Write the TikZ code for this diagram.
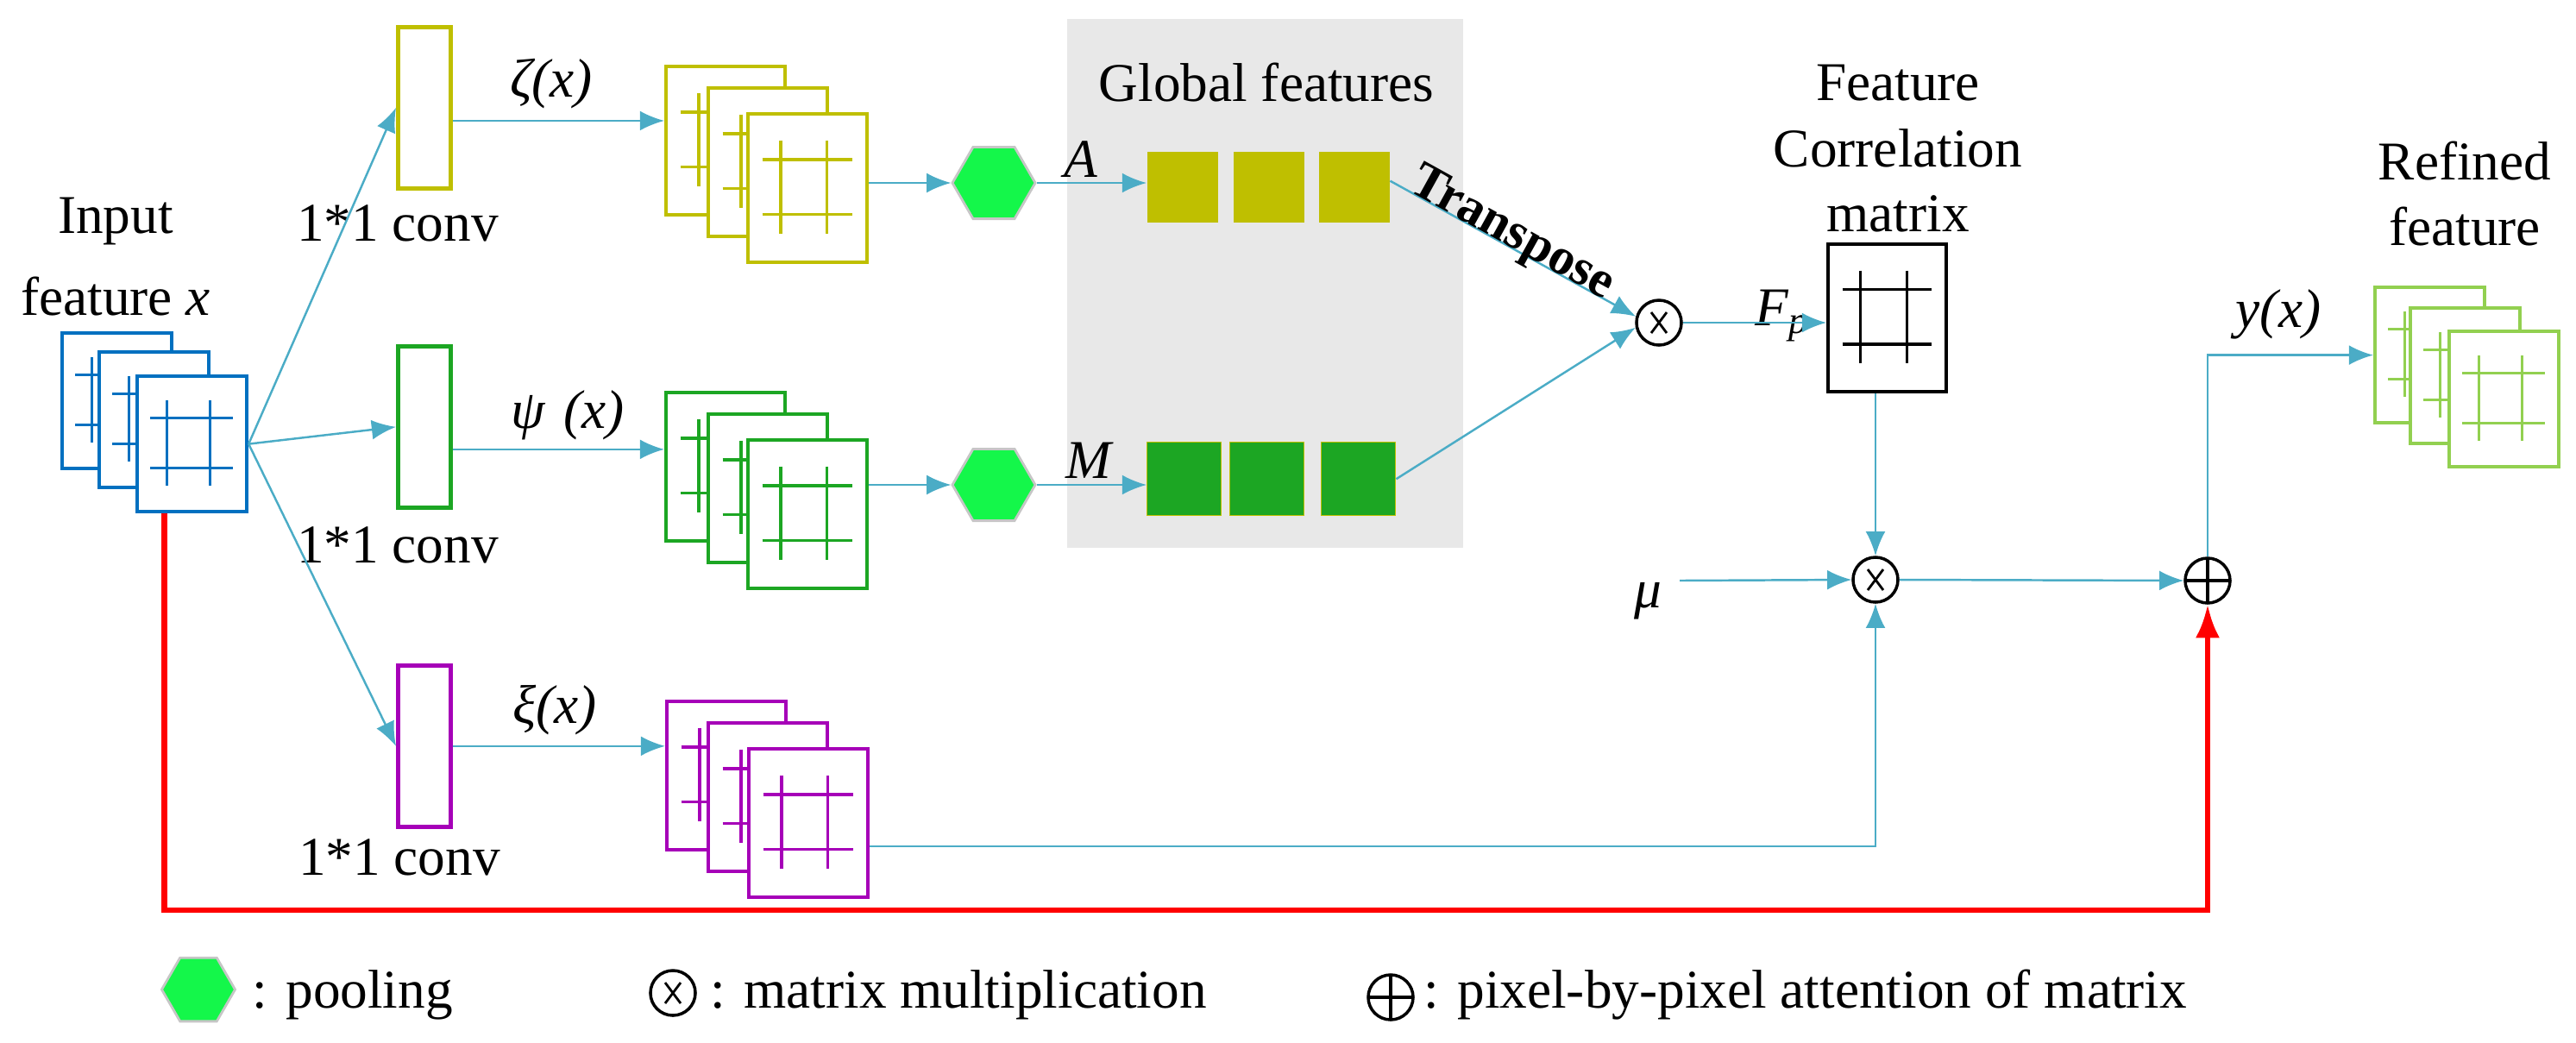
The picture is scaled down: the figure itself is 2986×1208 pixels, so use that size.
\documentclass[tikz,border=0pt]{standalone}
\usepackage{fontspec}
\setmainfont{Liberation Serif}
\usetikzlibrary{arrows.meta,shapes.geometric}
\definecolor{cy}{HTML}{BFBF00}
\definecolor{cg}{HTML}{1CA623}
\definecolor{cp}{HTML}{A600B8}
\definecolor{cb}{HTML}{0070C0}
\definecolor{cl}{HTML}{92D050}
\definecolor{chex}{HTML}{14F74A}
\definecolor{carr}{HTML}{4BACC6}
\definecolor{cgray}{HTML}{E8E8E8}
\tikzset{
 txt/.style={font=\fontsize{18}{20}\selectfont, inner sep=0pt},
 fm/.style={rectangle, fill=white, line width=1.2pt, inner sep=0pt, anchor=north west},
 grid/.style={line width=0.9pt},
 conv/.style={rectangle, draw=#1, fill=white, line width=1.3pt, inner sep=0pt, anchor=north west, minimum width=0.61cm, minimum height=1.87cm},
 arr/.style={carr, line width=0.7pt, -{Latex[length=8pt,width=6.5pt]}},
 hex/.style={regular polygon, regular polygon sides=6, fill=chex, draw=gray!45, line width=0.8pt, inner sep=0pt, minimum size=#1},
 sq/.style={rectangle, inner sep=0pt, anchor=north west, minimum width=0.82cm, minimum height=0.82cm},
 omul/.style={circle, draw, line width=1pt, minimum size=0.52cm, inner sep=0pt,
   path picture={\draw[line width=0.8pt] (path picture bounding box.center) +(-9,-12) -- +(9,12) +(-9,12) -- +(9,-12);}},
 oplus/.style={circle, draw, line width=1pt, minimum size=0.52cm, inner sep=0pt,
   path picture={\draw[line width=1pt] (path picture bounding box.north) -- (path picture bounding box.south) (path picture bounding box.west) -- (path picture bounding box.east);}},
}
% name, x, y, w, h, color
\newcommand\fmframe[6]{%
 \node[fm, draw=#6, minimum width={#4*0.01cm}, minimum height={#5*0.01cm}] (#1) at (#2,#3) {};
 \draw[grid,#6] (#2+0.29*#4,#3+0.19*#5) -- (#2+0.29*#4,#3+0.82*#5)
   (#2+0.68*#4,#3+0.19*#5) -- (#2+0.68*#4,#3+0.82*#5)
   (#2+0.135*#4,#3+0.32*#5) -- (#2+0.89*#4,#3+0.32*#5)
   (#2+0.135*#4,#3+0.69*#5) -- (#2+0.89*#4,#3+0.69*#5);}
\begin{document}
\begin{tikzpicture}[x=0.01cm,y=-0.01cm]
\useasboundingbox (0,0) rectangle (2986,1208);
% gray box
\node[rectangle, fill=cgray, inner sep=0pt, anchor=north west, minimum width=4.59cm, minimum height=6.13cm] (gbox) at (1236,21) {};
\node[txt] (gft) at (1468,96) {Global features};
% input
\node[txt] (tin1) at (134,257) {Input};
\node[txt] (tin2) at (134,344) {feature \textit{x}};
\fmframe{in1}{70}{384}{127}{157}{cb}
\fmframe{in2}{113}{406}{127}{157}{cb}
\fmframe{in3}{157}{434}{127}{157}{cb}
% convs
\node[conv=cy] (cvy) at (459,29) {};
\node[conv=cg] (cvg) at (459,399) {};
\node[conv=cp] (cvp) at (459,769) {};
\node[txt, fill=white, inner sep=2pt] (c1) at (461,259) {1*1 conv};
\node[txt, fill=white, inner sep=2pt] (c2) at (461,632) {1*1 conv};
\node[txt] (c3) at (463,994) {1*1 conv};
% stacks
\fmframe{y1}{770}{75}{138}{172}{cy}
\fmframe{y2}{819}{100}{138}{172}{cy}
\fmframe{y3}{865}{130}{138}{172}{cy}
\fmframe{g1}{770}{453}{138}{172}{cg}
\fmframe{g2}{819}{478}{138}{172}{cg}
\fmframe{g3}{865}{508}{138}{172}{cg}
\fmframe{p1}{771}{811}{138}{172}{cp}
\fmframe{p2}{819}{836}{138}{172}{cp}
\fmframe{p3}{866}{866}{138}{172}{cp}
\fmframe{l1}{2751}{331}{127}{157}{cl}
\fmframe{l2}{2792}{355}{127}{157}{cl}
\fmframe{l3}{2837}{382}{127}{157}{cl}
% labels
\node[txt] (lz) at (639,97) {\textit{ζ(x)}};
\node[txt] (lp) at (658,481) {\textit{ψ\,\,(x)}};
\node[txt] (lx) at (643,823) {\textit{ξ(x)}};
% hexagons
\node[hex=0.96cm] (hy) at (1152,212) {};
\node[hex=0.96cm] (hg) at (1152,562) {};
% squares
\node[sq, fill=cy] (ys1) at (1329,175) {};
\node[sq, fill=cy] (ys2) at (1429,175) {};
\node[sq, fill=cy] (ys3) at (1528,175) {};
\node[sq, fill=cg, draw=cy, minimum width=0.86cm, minimum height=0.85cm] (gs1) at (1329,512) {};
\node[sq, fill=cg, draw=cy, minimum width=0.86cm, minimum height=0.85cm] (gs2) at (1425,512) {};
\node[sq, fill=cg, draw=cy, minimum width=0.86cm, minimum height=0.85cm] (gs3) at (1531,512) {};
\node[txt] (tA) at (1253,185) {\textit{A}};
\node[txt] (tM) at (1263,534) {\textit{M}};
% operators
\node[omul] (ox1) at (1923,374) {};
\node[omul] (ox2) at (2174,672) {};
\node[oplus] (op) at (2559,673) {};
% correlation matrix
\node[txt] (tf1) at (2200,96) {Feature};
\node[txt] (tf2) at (2200,172) {Correlation};
\node[txt] (tf3) at (2200,248) {matrix};
\fmframe{cm}{2117}{281}{137}{171}{black}
\node[txt] (tFp) at (2066,366) {\textit{F\textsubscript{p}}};
\node[txt] (tmu) at (1910,697) {\textit{μ}};
\coordinate (mus) at (1947,673);
\node[txt] (tyx) at (2641,364) {\textit{y(x)}};
\node[txt] (tr1) at (2857,187) {Refined};
\node[txt] (tr2) at (2857,263) {feature};
% connectors
\draw[arr] (in3.east) -- (cvy.west);
\draw[arr] (in3.east) -- (cvg.west);
\draw[arr] (in3.east) -- (cvp.west);
\draw[arr] ([yshift=-4.3pt]cvy.east) -- ([yshift=-4.3pt]cvy.east -| y1.west);
\draw[arr] ([yshift=-7.4pt]cvg.east) -- ([yshift=-7.4pt]cvg.east -| g1.west);
\draw[arr] (cvp.east) -- (cvp.east -| p1.west);
\draw[arr] (hy.west -| y3.east) -- (hy.west);
\draw[arr] (hg.west -| g3.east) -- (hg.west);
\draw[arr] (hy.east) -- (hy.east -| ys1.west);
\draw[arr] (hg.east) -- (hg.east -| gs1.west);
\draw[arr] ([yshift=2pt]ys3.east) -- (ox1.165);
\node[txt, font=\fontsize{17}{20}\selectfont\bfseries, rotate=-29] (ttr) at (1752,272) {Transpose};
\draw[arr] (gs3.east) -- (ox1.192);
\draw[arr] (ox1.east) -- (ox1.east -| cm.west);
\draw[arr] (ox2 |- cm.south) -- (ox2.north);
\draw[arr] (mus) -- (ox2.west);
\draw[arr] (ox2.east) -- (op.west);
\draw[arr] (op.north) |- (l1.west);
\draw[arr] ([yshift=-7.7pt]p3.east) -| (ox2.south);
\coordinate (rb) at (0,1055);
\draw[red, line width=1.8pt, -{Latex[length=11pt,width=8pt]}] ([xshift=-9.1pt]in3.south) |- (op.south |- rb) -- (op.south);
% legend
\node[hex=0.85cm] (lh) at (230,1147) {};
\node[txt, anchor=west] (lt1) at (292,1153) {: pooling};
\node[omul] (lo1) at (780,1151) {};
\node[txt, anchor=west] (lt2) at (823,1153) {:\,\,matrix multiplication};
\node[oplus] (lo2) at (1612,1156) {};
\node[txt, anchor=west] (lt3) at (1650,1153) {:\,\,pixel-by-pixel attention of matrix};
\end{tikzpicture}
\end{document}
